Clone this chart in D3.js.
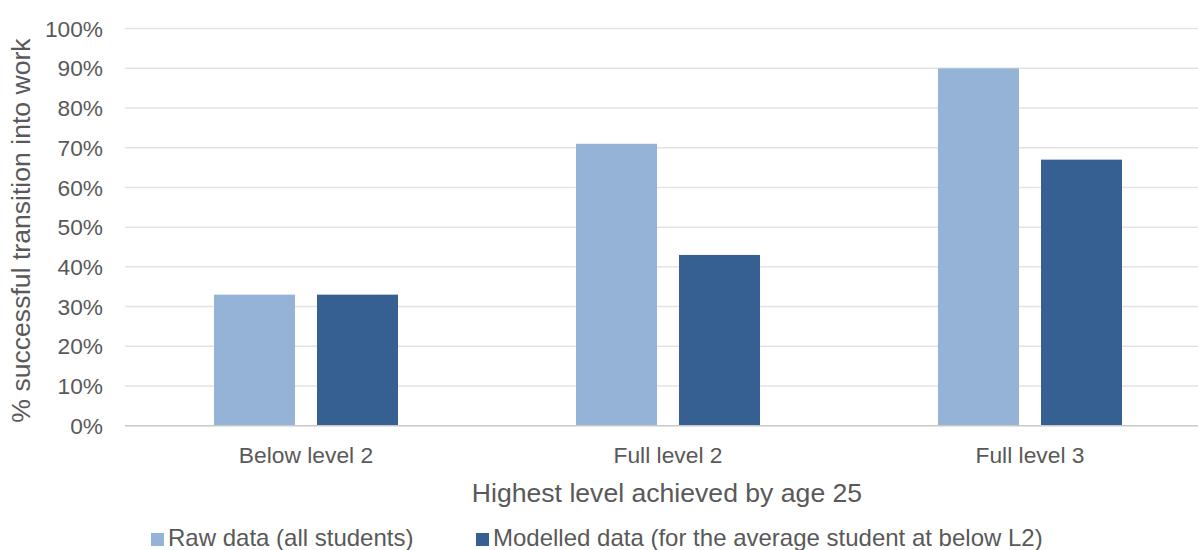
<!DOCTYPE html>
<html>
<head>
<meta charset="utf-8">
<script src="https://cdn.jsdelivr.net/npm/d3@7"></script>
<style>
  html, body { margin: 0; padding: 0; background: #fff; }
  svg { display: block; font-family: "Liberation Sans", Arial, sans-serif; }
</style>
</head>
<body>
<svg id="chart" width="1198" height="550"></svg>
<script>
const categories = ["Below level 2", "Full level 2", "Full level 3"];
const seriesNames = ["Raw data (all students)", "Modelled data (for the average student at below L2)"];
const rawValues = [0.33, 0.71, 0.90];
const modelledValues = [0.33, 0.43, 0.67];
const tickValues = [0, 0.1, 0.2, 0.3, 0.4, 0.5, 0.6, 0.7, 0.8, 0.9, 1.0];
const colors = ["#95B3D7", "#366092"];

const svg = d3.select("#chart");
const textColor = "#595959";

const x0 = d3.scaleBand().domain(categories).range([125, 1211])
  .paddingInner(0.4917).paddingOuter(0.4917 / 2);
const x1 = d3.scaleBand().domain([0, 1]).range([0, x0.bandwidth()]).paddingInner(0.2136);
const y = d3.scaleLinear().domain([0, 1]).range([425.7, 28.6]);

// gridlines
svg.append("g").selectAll("line").data(tickValues.filter(d => d > 0)).join("line")
  .attr("x1", 125).attr("x2", 1198)
  .attr("y1", d => y(d)).attr("y2", d => y(d))
  .attr("stroke", "#e3e3e3").attr("stroke-width", 1.5);

// y tick labels
svg.append("g").selectAll("text").data(tickValues).join("text")
  .attr("x", 103).attr("y", d => y(d)).attr("dy", "0.36em")
  .attr("text-anchor", "end").attr("fill", textColor)
  .attr("font-size", "22.7px")
  .text(d => d3.format(".0%")(d));

// bars
const data = categories.map((c, i) => ({ c, vals: [rawValues[i], modelledValues[i]] }));
const groups = svg.append("g").selectAll("g").data(data).join("g")
  .attr("transform", d => `translate(${x0(d.c)},0)`);
groups.selectAll("rect").data(d => d.vals.map((v, k) => ({ v, k }))).join("rect")
  .attr("x", d => x1(d.k)).attr("width", x1.bandwidth())
  .attr("y", d => y(d.v)).attr("height", d => y(0) - y(d.v))
  .attr("fill", d => colors[d.k]);

// baseline axis
svg.append("line").attr("x1", 125).attr("x2", 1198)
  .attr("y1", y(0)).attr("y2", y(0))
  .attr("stroke", "#c8c8c8").attr("stroke-width", 1.5);

// category labels
svg.append("g").selectAll("text").data(categories).join("text")
  .attr("x", d => x0(d) + x0.bandwidth() / 2).attr("y", 462.7)
  .attr("text-anchor", "middle").attr("fill", textColor)
  .attr("font-size", "22.8px").text(d => d);

// axis titles
svg.append("text").attr("x", 667).attr("y", 501.7)
  .attr("text-anchor", "middle").attr("fill", textColor)
  .attr("font-size", "26.6px").text("Highest level achieved by age 25");

svg.append("text").attr("transform", "translate(30,230.5) rotate(-90)")
  .attr("text-anchor", "middle").attr("fill", textColor)
  .attr("font-size", "26.6px").text("% successful transition into work");

// legend
const legendX = [151, 476];
const leg = svg.append("g").selectAll("g").data(seriesNames).join("g")
  .attr("transform", (d, i) => `translate(${legendX[i]},0)`);
leg.append("rect").attr("x", 0).attr("y", 533).attr("width", 13).attr("height", 13)
  .attr("fill", (d, i) => colors[i]);
leg.append("text").attr("x", 17).attr("y", 546)
  .attr("fill", textColor).attr("font-size", "24px").text(d => d);
</script>
</body>
</html>
